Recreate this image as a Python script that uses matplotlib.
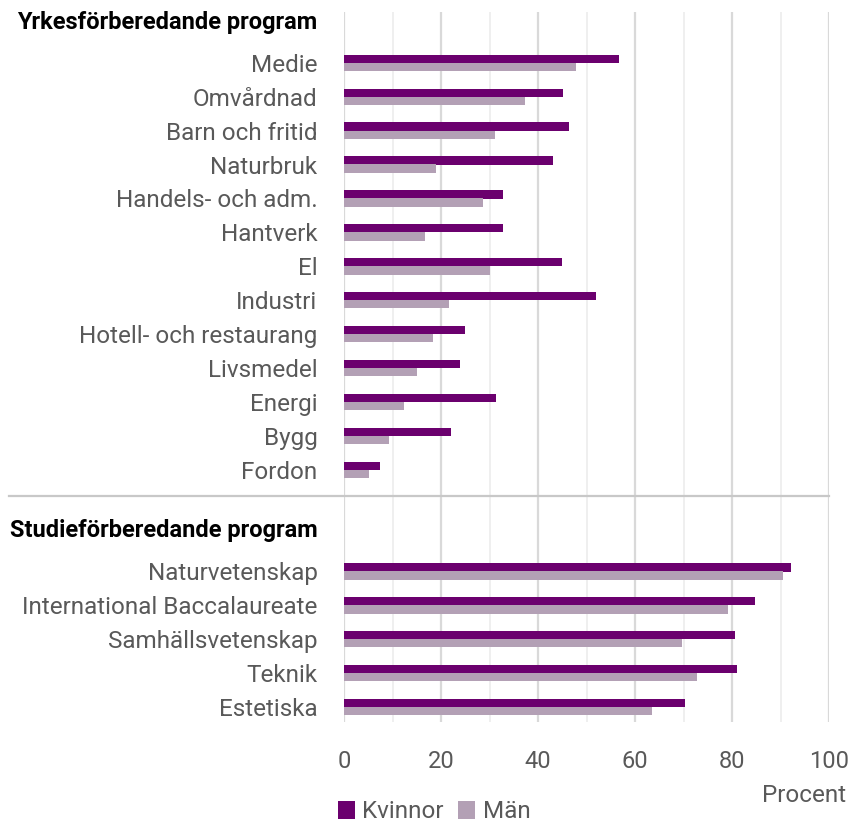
import matplotlib
matplotlib.use("Agg")
import matplotlib.pyplot as plt
import numpy as np

plt.rcParams["font.family"] = ["Roboto", "DejaVu Sans"]

# data (procent)
yrkes = ["Medie", "Omvårdnad", "Barn och fritid", "Naturbruk", "Handels- och adm.",
         "Hantverk", "El", "Industri", "Hotell- och restaurang", "Livsmedel",
         "Energi", "Bygg", "Fordon"]
yrkes_kvinnor = [56.6, 45.2, 46.3, 43.0, 32.7, 32.8, 45.0, 51.9, 25.0, 24.0, 31.3, 22.1, 7.4]
yrkes_man = [47.8, 37.3, 31.2, 18.9, 28.7, 16.8, 30.1, 21.7, 18.3, 15.0, 12.3, 9.3, 5.1]

studie = ["Naturvetenskap", "International Baccalaureate", "Samhällsvetenskap",
          "Teknik", "Estetiska"]
studie_kvinnor = [92.2, 84.7, 80.7, 81.1, 70.3]
studie_man = [90.6, 79.1, 69.7, 72.8, 63.6]

headers = ["Yrkesförberedande program", "Studieförberedande program"]
series = ["Kvinnor", "Män"]
x_ticks = [0, 20, 40, 60, 80, 100]

c_k = "#6b006e"
c_m = "#b3a0b5"
grey = "#595959"

# row positions: vocational rows 0..12, a gap, then academic rows 15..19
pos_y = list(range(len(yrkes)))
pos_s = list(range(len(yrkes) + 2, len(yrkes) + 2 + len(studie)))
pos = np.array(pos_y + pos_s, dtype=float)
labels = yrkes + studie
kv = yrkes_kvinnor + studie_kvinnor
ma = yrkes_man + studie_man

fig = plt.figure(figsize=(8.63, 8.25), dpi=100)
ax = fig.add_axes([344 / 863, 1 - 722 / 825, 485 / 863, 710 / 825])

h = 0.245
bk = ax.barh(pos - 0.12, kv, height=h, color=c_k, label=series[0], zorder=3)
bm = ax.barh(pos + 0.12, ma, height=h, color=c_m, label=series[1], zorder=3)

ax.set_xlim(0, 100)
ax.set_ylim(19.44, -1.5)

# grid
for v in np.arange(10, 100, 20):
    ax.axvline(v, color="#efefef", lw=1.4, zorder=1)
for v in x_ticks:
    ax.axvline(v, color="#d9d9d9", lw=1.6, zorder=1)

# separator between groups
ax.plot([-69, 100], [12.76, 12.76], color="#c8c8c8", lw=1.6, clip_on=False, zorder=2)

head_pos = [-1.27, 13.72]
ax.set_yticks(list(pos) + head_pos)
ax.set_yticklabels(labels + headers)
for t in ax.get_yticklabels():
    t.set_fontsize(17.5)
    t.set_color(grey)
for t in ax.get_yticklabels()[-2:]:
    t.set_fontsize(17)
    t.set_fontweight("bold")
    t.set_color("black")
ax.tick_params(axis="y", length=0, pad=19)

ax.set_xticks(x_ticks)
ax.set_xticklabels([str(v) for v in x_ticks], fontsize=17, color=grey)
ax.tick_params(axis="x", length=0, pad=20)

for s in ax.spines.values():
    s.set_visible(False)

fig.text(846 / 863, 1 - 796 / 825, "Procent", ha="right", va="center",
         fontsize=17.5, color=grey)

fig.legend(handles=[bk, bm], labels=series, loc="center left",
           bbox_to_anchor=(338 / 863, 1 - 812 / 825), ncol=2, frameon=False,
           fontsize=17.5, labelcolor=grey, handlelength=0.7, handleheight=0.7,
           handletextpad=0.3, columnspacing=0.6, borderpad=0, borderaxespad=0)

fig.savefig("out.png", dpi=100)
